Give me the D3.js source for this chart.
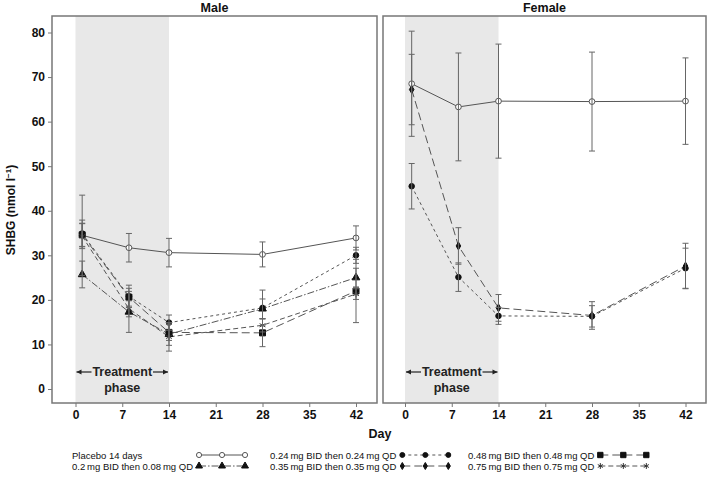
<!DOCTYPE html>
<html>
<head>
<meta charset="utf-8">
<script src="https://cdn.jsdelivr.net/npm/d3@7"></script>
<style>
  body { margin: 0; background: #fff; }
  text { font-family: "Liberation Sans", Arial, sans-serif; }
  .bold { font-family: "Liberation Sans Narrow", "Liberation Sans", Arial, sans-serif; font-weight: bold; }
</style>
</head>
<body>
<script>
// SHBG over time, male and female panels, by dose group

// Days of sampling and axis ticks
const days = [1, 8, 14, 28, 42];
const xTicks = [0, 7, 14, 21, 28, 35, 42];
const yTicks = [0, 10, 20, 30, 40, 50, 60, 70, 80];
const treatmentEnd = 14;

// Group labels (legend order)
const groups = ["Placebo 14 days", "0.2\u2009mg BID then 0.08\u2009mg QD",
    "0.24\u2009mg BID then 0.24\u2009mg QD", "0.35\u2009mg BID then 0.35\u2009mg QD",
    "0.48\u2009mg BID then 0.48\u2009mg QD", "0.75\u2009mg BID then 0.75\u2009mg QD"];

// Male means and error half-widths
const malePlacebo = [34.5, 31.7, 30.6, 30.2, 33.9];
const malePlaceboErr = [9.0, 3.2, 3.2, 2.8, 2.7];
const male020 = [25.7, 17.3, 12.3, 18.0, 25.0];
const male020Err = [3.0, 4.6, 2.5, 2.2, 2.1];
const male024 = [34.9, 20.8, 14.9, 18.2, 30.0];
const male024Err = [3.0, 2.5, 1.7, 4.0, 1.8];
const male048 = [34.6, 20.6, 12.7, 12.6, 22.0];
const male048Err = [2.6, 2.0, 1.8, 3.1, 7.1];
const male075 = [34.3, 18.0, 11.7, 14.3, 21.3];
const male075Err = [2.8, 1.8, 3.2, 1.5, 1.2];

// Female means and error half-widths
const femalePlacebo = [68.5, 63.3, 64.6, 64.5, 64.6];
const femalePlaceboErr = [11.8, 12.1, 12.8, 11.1, 9.7];
const female024 = [45.5, 25.1, 16.4, 16.3, 27.1];
const female024Err = [5.1, 3.2, 1.9, 2.4, 4.5];
const female035 = [67.2, 32.1, 18.2, 16.5, 27.6];
const female035Err = [7.9, 4.1, 3.0, 3.1, 5.1];

// Line and marker style per group
const styles = [
    {dash: null, symbol: d3.symbolCircle, size: 26, fill: "#fff", stroke: "#555"},
    {dash: "7,2,1.5,2", symbol: d3.symbolTriangle, size: 26, fill: "#111", stroke: "#111"},
    {dash: "3,3", symbol: d3.symbolCircle, size: 24, fill: "#111", stroke: "#111"},
    {dash: "8,4", symbol: d3.symbolDiamond, size: 18, fill: "#111", stroke: "#111"},
    {dash: "8,4", symbol: d3.symbolSquare, size: 36, fill: "#111", stroke: "#111"},
    {dash: "5,3", symbol: d3.symbolAsterisk, size: 30, fill: "none", stroke: "#333"}
];

const panels = [
    {title: "Male", left: 52, right: 377, x0: 75.5, x1: 356, series: [
        {g: 0, v: malePlacebo, e: malePlaceboErr},
        {g: 1, v: male020, e: male020Err},
        {g: 2, v: male024, e: male024Err},
        {g: 4, v: male048, e: male048Err},
        {g: 5, v: male075, e: male075Err}
    ]},
    {title: "Female", left: 383, right: 706, x0: 405, x1: 685.5, series: [
        {g: 0, v: femalePlacebo, e: femalePlaceboErr},
        {g: 2, v: female024, e: female024Err},
        {g: 3, v: female035, e: female035Err}
    ]}
];

const width = 709, height = 480;
const plotTop = 16, plotBottom = 403;

let svg = d3.select("body").append("svg")
    .attr("width", width)
    .attr("height", height);

let y = d3.scaleLinear().domain([0, 80]).range([389, 32.5]);

panels.forEach(function (p, pi) {
    let x = d3.scaleLinear().domain([0, 42]).range([p.x0, p.x1]);
    let g = svg.append("g");

    // Treatment phase shading
    g.append("rect")
        .attr("x", x(0)).attr("y", plotTop)
        .attr("width", x(treatmentEnd) - x(0)).attr("height", plotBottom - plotTop)
        .attr("fill", "#e8e8e8");

    // Treatment label with arrows
    let mid = (x(0) + x(treatmentEnd)) / 2;
    g.append("text").attr("class", "bold")
        .attr("x", mid).attr("y", 376)
        .attr("text-anchor", "middle")
        .attr("font-size", 12.5)
        .attr("fill", "#222")
        .text("Treatment");
    g.append("text").attr("class", "bold")
        .attr("x", mid).attr("y", 392)
        .attr("text-anchor", "middle")
        .attr("font-size", 12.5)
        .attr("fill", "#222")
        .text("phase");
    [[x(0) + 16, x(0) + 1], [x(treatmentEnd) - 16, x(treatmentEnd) - 1]].forEach(function (a) {
        g.append("line")
            .attr("x1", a[0]).attr("x2", a[1])
            .attr("y1", 372).attr("y2", 372)
            .attr("stroke", "#222").attr("stroke-width", 1.2);
        let d = a[1] > a[0] ? -1 : 1;
        g.append("path")
            .attr("d", `M${a[1]},372 L${a[1] + d * 5},369.5 L${a[1] + d * 5},374.5 Z`)
            .attr("fill", "#222");
    });

    // Lines
    let line = d3.line()
        .x((d, i) => x(days[i]))
        .y((d) => y(d));
    p.series.forEach(function (s) {
        let st = styles[s.g];
        g.append("path")
            .datum(s.v)
            .attr("fill", "none")
            .attr("stroke", "#555")
            .attr("stroke-width", 1)
            .attr("stroke-dasharray", st.dash)
            .attr("d", line);
    });

    // Markers
    p.series.forEach(function (s) {
        let st = styles[s.g];
        g.selectAll(null)
            .data(s.v)
            .enter().append("path")
            .attr("transform", (d, i) => `translate(${x(days[i])},${y(d)})`)
            .attr("d", d3.symbol().type(st.symbol).size(st.size))
            .attr("fill", st.fill)
            .attr("stroke", st.stroke)
            .attr("stroke-width", 1);
    });

    // Error bars, drawn over the markers
    p.series.forEach(function (s) {
        days.forEach(function (day, i) {
            let cx = x(day), lo = y(s.v[i] - s.e[i]), hi = y(s.v[i] + s.e[i]);
            g.append("line").attr("x1", cx).attr("x2", cx).attr("y1", lo).attr("y2", hi)
                .attr("stroke", "#666").attr("stroke-width", 1);
            [lo, hi].forEach(function (yy) {
                g.append("line").attr("x1", cx - 3).attr("x2", cx + 3).attr("y1", yy).attr("y2", yy)
                    .attr("stroke", "#666").attr("stroke-width", 1);
            });
        });
    });

    // Frame
    g.append("rect")
        .attr("x", p.left).attr("y", plotTop)
        .attr("width", p.right - p.left).attr("height", plotBottom - plotTop)
        .attr("fill", "none").attr("stroke", "#777").attr("stroke-width", 1.5);

    // Title
    g.append("text").attr("class", "bold")
        .attr("x", (p.left + p.right) / 2).attr("y", 12)
        .attr("text-anchor", "middle")
        .attr("font-size", 12.5)
        .attr("fill", "#111")
        .text(p.title);

    // X axis
    let xaxis = g.append("g")
        .attr("transform", `translate(0,${plotBottom})`)
        .call(d3.axisBottom(x).tickValues(xTicks).tickSize(4).tickPadding(3));
    xaxis.select(".domain").remove();
    xaxis.selectAll("line").attr("stroke", "#777");
    xaxis.selectAll("text").attr("class", "bold").attr("font-size", 12).attr("fill", "#111");

    // Y axis on the first panel only
    if (pi === 0) {
        let yaxis = g.append("g")
            .attr("transform", `translate(${p.left},0)`)
            .call(d3.axisLeft(y).tickValues(yTicks).tickSize(4).tickPadding(3));
        yaxis.select(".domain").remove();
        yaxis.selectAll("line").attr("stroke", "#777");
        yaxis.selectAll("text").attr("class", "bold").attr("font-size", 12).attr("fill", "#111");
    }
});

// Axis titles
let ytitle = svg.append("text").attr("class", "bold")
    .attr("transform", "translate(15,210) rotate(-90)")
    .attr("text-anchor", "middle")
    .attr("font-size", 12)
    .attr("fill", "#111");
ytitle.append("tspan").text("SHBG (nmol l");
ytitle.append("tspan").attr("baseline-shift", "super").attr("font-size", 8).text("\u22121");
ytitle.append("tspan").text(")");

svg.append("text").attr("class", "bold")
    .attr("x", 380).attr("y", 438)
    .attr("text-anchor", "middle")
    .attr("font-size", 12.5)
    .attr("fill", "#111")
    .text("Day");

// Legend: three columns of two rows, sample line after the longest label
const legendCols = [72, 270, 468];
const legendRows = [455, 466];
const legendPos = [[0, 0], [0, 1], [1, 0], [1, 1], [2, 0], [2, 1]];

let legendText = groups.map(function (label, gi) {
    return svg.append("text")
        .attr("x", legendCols[legendPos[gi][0]]).attr("y", legendRows[legendPos[gi][1]] + 3.5)
        .attr("font-size", 9.5)
        .attr("fill", "#111")
        .text(label);
});
let colEnd = legendCols.map((c, ci) => c + d3.max(legendText.filter((t, gi) => legendPos[gi][0] === ci),
    (t) => t.node().getComputedTextLength()));

groups.forEach(function (label, gi) {
    let col = legendPos[gi][0], row = legendPos[gi][1];
    let st = styles[gi];
    let yy = legendRows[row];
    let sx = d3.scaleLinear().domain([0, 2]).range([colEnd[col] + 6, colEnd[col] + 52]);
    svg.append("line")
        .attr("x1", sx(0)).attr("x2", sx(2)).attr("y1", yy).attr("y2", yy)
        .attr("stroke", "#555").attr("stroke-width", 1)
        .attr("stroke-dasharray", st.dash);
    svg.selectAll(null)
        .data([0, 1, 2])
        .enter().append("path")
        .attr("transform", (d) => `translate(${sx(d)},${yy})`)
        .attr("d", d3.symbol().type(st.symbol).size(st.size * 0.8))
        .attr("fill", st.fill)
        .attr("stroke", st.stroke)
        .attr("stroke-width", 1);
});
</script>
</body>
</html>
